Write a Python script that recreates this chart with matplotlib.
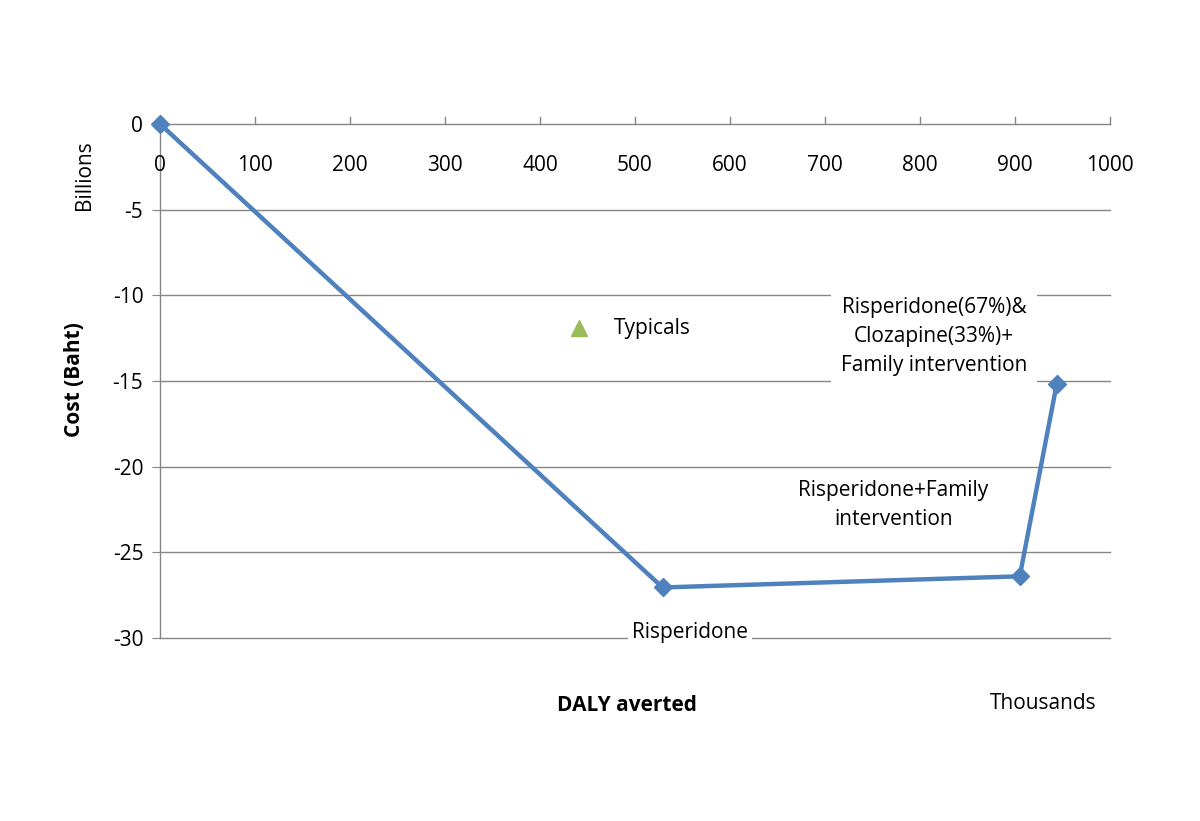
import matplotlib.pyplot as plt

# Data (DALY averted in thousands, cost in billions Baht)
daly = [0, 529, 905, 944]
cost = [0, -27.05, -26.4, -15.15]
typicals_daly = [441]
typicals_cost = [-11.9]

x_ticks = [0, 100, 200, 300, 400, 500, 600, 700, 800, 900, 1000]
y_ticks = [0, -5, -10, -15, -20, -25, -30]

plt.rcParams['font.family'] = ['Open Sans', 'DejaVu Sans']
plt.rcParams['axes.unicode_minus'] = False
FS = 15

fig = plt.figure(figsize=(12, 8.21), dpi=100)
ax = fig.add_axes([0.1333, 0.2229, 0.7917, 0.6261])

ax.set_xlim(0, 1000)
ax.set_ylim(-30, 0)

# horizontal gridlines
for y in y_ticks:
    ax.axhline(y, color='#868686', lw=1, zorder=1, clip_on=False)

# main line
ax.plot(daly, cost, color='#4F81BD', lw=3.2, marker='D', markersize=9,
        zorder=4, clip_on=False)
ax.plot(typicals_daly, typicals_cost, linestyle='none', marker='^',
        color='#9BBB59', markersize=12, zorder=4)

for s in ax.spines.values():
    s.set_visible(False)
ax.axvline(0, color='#868686', lw=1, zorder=1, clip_on=False)

# y ticks (pointing left)
ax.set_yticks(y_ticks)
ax.tick_params(axis='y', direction='out', length=6, color='#868686',
               labelsize=FS, pad=6)

# x ticks at y=0 pointing up, labels below the line
ax.set_xticks([])
for xv in x_ticks:
    ax.plot([xv, xv], [0, 0.38], color='#868686', lw=1, clip_on=False, zorder=1)
    ax.text(xv, -2.4, str(xv), ha='center', va='center', fontsize=FS)

# annotations with white background
bbox = dict(facecolor='white', edgecolor='none', pad=3)
ax.text(478, -11.95, 'Typicals', ha='left', va='center', fontsize=FS)
ax.text(558, -29.65, 'Risperidone', ha='center', va='center', fontsize=FS,
        bbox=bbox, zorder=3)
ax.text(772, -22.25, 'Risperidone+Family\nintervention', ha='center',
        va='center', fontsize=FS, linespacing=1.5, bbox=bbox, zorder=3)
ax.text(815, -12.4, 'Risperidone(67%)&\nClozapine(33%)+\nFamily intervention',
        ha='center', va='center', fontsize=FS, linespacing=1.5,
        bbox=dict(facecolor='white', edgecolor='none', pad=7), zorder=3)

# axis titles
fig.text(627 / 1200, 1 - 705 / 821, 'DALY averted', ha='center', va='center',
         fontsize=FS, fontweight='bold')
fig.text(1043 / 1200, 1 - 703 / 821, 'Thousands', ha='center', va='center',
         fontsize=FS)
fig.text(85 / 1200, 1 - 175 / 821, 'Billions', ha='center', va='center',
         fontsize=FS, rotation=90)
fig.text(75 / 1200, 1 - 380 / 821, 'Cost (Baht)', ha='center', va='center',
         fontsize=FS, fontweight='bold', rotation=90)

plt.savefig('out.png', dpi=100)
